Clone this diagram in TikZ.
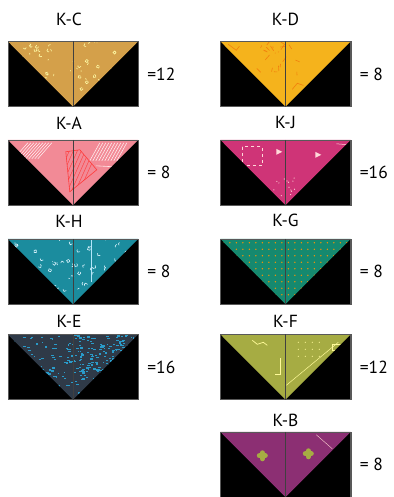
\documentclass[tikz,border=0pt]{standalone}
\usepackage{fontspec}
\setmainfont{PT Sans}
\usetikzlibrary{positioning}

\definecolor{kcfab}{HTML}{D4A04A}
\definecolor{kdfab}{HTML}{F5B31C}
\definecolor{kafab}{HTML}{F28A96}
\definecolor{kjfab}{HTML}{CF3477}
\definecolor{khfab}{HTML}{1B8C9E}
\definecolor{kgfab}{HTML}{15896F}
\definecolor{kefab}{HTML}{2F3A48}
\definecolor{kffab}{HTML}{A6AC43}
\definecolor{kbfab}{HTML}{8C2F73}

\begin{document}
\begin{tikzpicture}[x=1pt, y=1pt,
      every node/.style={font=\fontsize{17.5}{20}\selectfont},
      block/.style={draw=black!65, line width=.4pt, fill=black,
        minimum width=130pt, minimum height=65pt, inner sep=0pt},
      seam/.style={black!75, line width=.8pt},
      speck/.style={line width=.6pt, line cap=round}
    ]
    \useasboundingbox (0,0) rectangle (393,497);
    \pgfmathsetseed{11}

    % blocks: name / x / y / fabric / label / count / label shift / label gap
    \foreach \blk/\x/\y/\fab/\lab/\num/\sh/\gap in {
        kc/73/423/kcfab/K-C/=12/-4/12,
        ka/73/324.5/kafab/K-A/= 8/-4/7,
        kh/73/225.5/khfab/K-H/= 8/-4/8,
        ke/73/130/kefab/K-E/=16/-4/3,
        kd/285.5/423/kdfab/K-D/= 8/0/12.5,
        kj/285.5/324.5/kjfab/K-J/=16/0/7.5,
        kg/285.5/225.5/kgfab/K-G/= 8/0/8.5,
        kf/285.5/130/kffab/K-F/=12/0/3.5,
        kb/285.5/32.5/kbfab/K-B/= 8/0/2}
    {
      \node[block] (\blk) at (\x,\y) {};
      \fill[\fab] (\blk.north west) -- (\blk.north east) -- (\blk.south) -- cycle;
      \node[above=\gap pt of \blk, xshift=\sh pt] (\blk-lab) {\lab};
      \node[right=9pt of \blk, inner sep=0pt] (\blk-num) {\num};
    }

    % fabric prints
    \begin{scope}
      \clip (kc.north west) -- (kc.north east) -- (kc.south) -- cycle;
      \foreach \i in {1,...,60}
        \draw[speck, yellow!35!white] ([shift={(130*rnd,-50*rnd)}]kc.north west)
          arc[start angle=360*rnd, delta angle=120, radius=1.5];
    \end{scope}

    \begin{scope}
      \clip (kd.north west) -- (kd.north east) -- (kd.south) -- cycle;
      \foreach \i in {1,...,22}
        \draw[speck, orange!80!brown] ([shift={(40+40*rnd,-3-28*rnd)}]kd.north west)
          -- ++(10*rnd-5,10*rnd-5);
      \draw[speck, orange!80!brown] ([shift={(8,-3)}]kd.north west) -- ++(8,-6) -- ++(3,4);
      \draw[speck, orange!80!brown] ([shift={(72,-48)}]kd.north west) -- ++(5,6) -- ++(6,-2);
    \end{scope}

    \begin{scope}
      \clip (ka.north west) -- (ka.north east) -- (ka.south) -- cycle;
      \foreach \t in {0,3,...,24}
        \draw[white!85!pink, line width=.5pt] ([shift={(20+\t,-3)}]ka.north west) -- ++(-14,-16);
      \foreach \t in {0,3,...,27}
        \draw[white!85!pink, line width=.5pt] ([shift={(92+\t,-3)}]ka.north west) -- ++(-10,-18);
      \draw[pink!40!white, line width=.6pt] ([shift={(88,-26)}]ka.north west) -- ++(36,-2);
      \draw[red!70!pink, line width=.6pt] ([shift={(58,-12)}]ka.north west)
        -- ++(14,2) -- ++(17,-20) -- ++(-27,-22) -- cycle;
      \clip ([shift={(58,-12)}]ka.north west) -- ++(14,2) -- ++(17,-20) -- ++(-27,-22) -- cycle;
      \foreach \t in {0,4,...,40}
        \draw[red!70!pink, line width=.4pt] ([shift={(50+\t,-10)}]ka.north west) -- ++(-20,-45);
    \end{scope}

    \begin{scope}
      \clip (kj.north west) -- (kj.north east) -- (kj.south) -- cycle;
      \draw[pink!60!white, line width=.9pt, dashed] ([shift={(22,-7)}]kj.north west) rectangle ++(20,-19);
      \fill[pink!60!white] ([shift={(56,-9)}]kj.north west) -- ++(6,-3) -- ++(-6,-3) -- cycle;
      \fill[pink!60!white] ([shift={(95,-12)}]kj.north west) -- ++(6,-3) -- ++(-6,-3) -- cycle;
      \foreach \i in {1,...,14}
        \fill[pink!60!white] ([shift={(52+24*rnd,-38-18*rnd)}]kj.north west) circle[radius=.6];
      \draw[pink!60!white, line width=.5pt] ([shift={(116,-4)}]kj.north west) -- ++(12,-1);
    \end{scope}

    \begin{scope}
      \clip (kh.north west) -- (kh.north east) -- (kh.south) -- cycle;
      \foreach \i in {1,...,60}
        \draw[speck, white!85!cyan] ([shift={(130*rnd,-55*rnd)}]kh.north west)
          arc[start angle=360*rnd, delta angle=110, radius=1.6];
      \draw[white!70!cyan, line width=.4pt] ([shift={(83,0)}]kh.north west) -- ++(0,-43);
    \end{scope}

    \begin{scope}
      \clip (kg.north west) -- (kg.north east) -- (kg.south) -- cycle;
      \foreach \gx in {3,9.5,...,130}
        \foreach \gy in {-4,-10.5,...,-62}
          \fill[orange!85!yellow] ([shift={(\gx,\gy)}]kg.north west) circle[radius=.75];
    \end{scope}

    \begin{scope}
      \clip (ke.north west) -- (ke.north east) -- (ke.south) -- cycle;
      \foreach \i in {1,...,220}
        \fill[cyan!60!teal] ([shift={(130*rnd,-62*rnd)}]ke.north west) rectangle ++(1.2+2*rnd,-1.2);
      \foreach \i in {1,...,120}
        \fill[cyan!60!teal] ([shift={(70+60*rnd,-50*rnd)}]ke.north west) rectangle ++(1.2+2*rnd,-1.2);
    \end{scope}

    \begin{scope}
      \clip (kf.north west) -- (kf.north east) -- (kf.south) -- cycle;
      \draw[yellow!40!white, line width=.5pt] ([shift={(118,-8)}]kf.north west) -- ++(-52,-43);
      \draw[yellow!40!white, line width=.7pt] ([shift={(60,-24)}]kf.north west) -- ++(0,-16) -- ++(-5,0);
      \draw[yellow!40!white, line width=.7pt] ([shift={(32,-6)}]kf.north west) -- ++(5,-4) -- ++(6,2) -- ++(4,-3);
      \draw[yellow!40!white, line width=.7pt] ([shift={(112,-10)}]kf.north west) rectangle ++(8,-6);
      \foreach \gx in {78,85,...,105}
        \foreach \gy in {-8,-15,-22}
          \fill[yellow!40!white] ([shift={(\gx,\gy)}]kf.north west) circle[radius=.6];
    \end{scope}

    \begin{scope}
      \clip (kb.north west) -- (kb.north east) -- (kb.south) -- cycle;
      \foreach \cx/\cy in {42/-24, 88/-22}
        \draw[kffab, line width=5pt, line cap=round]
          ([shift={(\cx-3,\cy)}]kb.north west) -- ([shift={(\cx+3,\cy)}]kb.north west)
          ([shift={(\cx,\cy-3)}]kb.north west) -- ([shift={(\cx,\cy+3)}]kb.north west);
      \draw[pink!70!white, line width=.4pt] ([shift={(96,-3)}]kb.north west) -- ++(16,-14);
    \end{scope}

    % outlines and centre seams on top
    \foreach \blk in {kc,ka,kh,ke,kd,kj,kg,kf,kb} {
      \draw[black!65, line width=.4pt] (\blk.north west) rectangle (\blk.south east);
      \draw[seam] (\blk.north) -- (\blk.south);
    }
  \end{tikzpicture}
\end{document}
